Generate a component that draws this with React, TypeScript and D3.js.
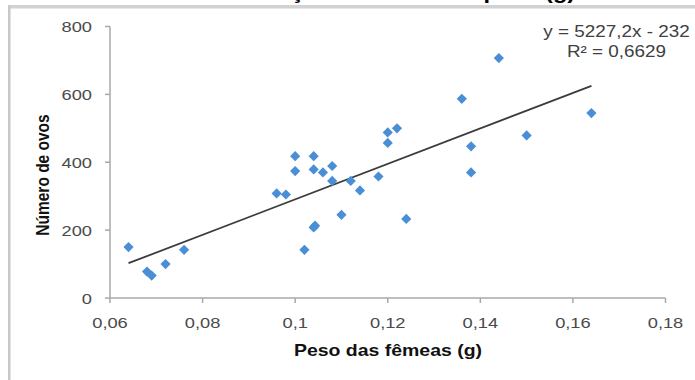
import { useRef, useEffect } from 'react';
import * as d3 from 'd3';

const WIDTH = 695;
const HEIGHT = 380;

// peso das fêmeas (g)
const pesos = [
  0.064, 0.068, 0.069, 0.072, 0.076, 0.096, 0.098, 0.1, 0.1, 0.102, 0.104,
  0.104, 0.104, 0.1043, 0.106, 0.108, 0.108, 0.11, 0.112, 0.114, 0.118, 0.12,
  0.12, 0.122, 0.124, 0.136, 0.138, 0.138, 0.144, 0.15, 0.164,
];
// número de ovos
const ovos = [
  150, 78, 66, 100, 142, 308, 305, 418, 374, 142, 418,
  379, 208, 213, 370, 389, 345, 245, 345, 317, 358, 488,
  457, 500, 233, 587, 447, 370, 707, 479, 545,
];

const xTicks = [0.06, 0.08, 0.1, 0.12, 0.14, 0.16, 0.18];
const xTickLabels = ['0,06', '0,08', '0,1', '0,12', '0,14', '0,16', '0,18'];
const yTicks = [0, 200, 400, 600, 800];
const yTickLabels = ['0', '200', '400', '600', '800'];

const trendSlope = 5227.2;
const trendIntercept = -232;
const equationLines = ['y = 5227,2x - 232', 'R² = 0,6629'];

const FONT = '"Liberation Sans", Arial, sans-serif';
const STRETCH = 1.18; // the picture is a little wider than tall

const App = () => {
  const svgRef = useRef<SVGSVGElement>(null);

  useEffect(() => {
    document.body.style.margin = '0';
    const svg = d3.select(svgRef.current);
    svg.selectAll('*').remove();

    const x = d3.scaleLinear().domain([0.06, 0.18]).range([110, 665.5]);
    const y = d3.scaleLinear().domain([0, 800]).range([298, 26.5]);

    const label = (
      px: number, py: number, txt: string,
      opts: { size: number; anchor?: string; weight?: string; fill?: string; rotate?: number }
    ) => {
      svg.append('text')
        .attr('transform', `translate(${px},${py}) scale(${STRETCH},1)${opts.rotate ? ` rotate(${opts.rotate})` : ''}`)
        .attr('font-family', FONT)
        .attr('font-size', opts.size)
        .attr('font-weight', opts.weight || 'normal')
        .attr('text-anchor', opts.anchor || 'middle')
        .attr('fill', opts.fill || '#000')
        .text(txt);
    };

    // caption above the frame, cut off by the top edge as in the source
    label(241, -1, 'Relação entre ovos e peso (g)', { size: 20, anchor: 'start', weight: 'bold' });

    // frame
    svg.append('rect').attr('x', 8).attr('y', 5).attr('width', WIDTH - 8).attr('height', 3.5).attr('fill', '#d2d2d2');
    svg.append('rect').attr('x', 8).attr('y', 5).attr('width', 2.5).attr('height', HEIGHT - 5).attr('fill', '#c8c8c8');

    const axisColor = '#a8a8a8';

    // y axis
    svg.append('line')
      .attr('x1', x(0.06)).attr('x2', x(0.06))
      .attr('y1', y(800)).attr('y2', y(0))
      .attr('stroke', axisColor).attr('stroke-width', 1.5);
    yTicks.forEach((t, i) => {
      svg.append('line')
        .attr('x1', x(0.06) - 5).attr('x2', x(0.06))
        .attr('y1', y(t)).attr('y2', y(t))
        .attr('stroke', axisColor).attr('stroke-width', 1.5);
      label(92, y(t) + 5.5, yTickLabels[i], { size: 15.5, anchor: 'end', fill: '#4a4a4a' });
    });

    // x axis
    svg.append('line')
      .attr('x1', x(0.06)).attr('x2', x(0.18))
      .attr('y1', y(0)).attr('y2', y(0))
      .attr('stroke', axisColor).attr('stroke-width', 1.5);
    xTicks.forEach((t, i) => {
      svg.append('line')
        .attr('x1', x(t)).attr('x2', x(t))
        .attr('y1', y(0)).attr('y2', y(0) + 5)
        .attr('stroke', axisColor).attr('stroke-width', 1.5);
      label(x(t), 327.5, xTickLabels[i], { size: 15.5, fill: '#4a4a4a' });
    });

    // axis titles
    label(388, 356, 'Peso das fêmeas (g)', { size: 16.5, weight: 'bold', fill: '#111' });
    label(49, 175, 'Número de ovos', { size: 15.5, weight: 'bold', fill: '#111', rotate: -90 });

    // trend line
    const [x0, x1] = d3.extent(pesos) as [number, number];
    const trend = d3.line<number>()
      .x(d => x(d))
      .y(d => y(trendSlope * d + trendIntercept));
    svg.append('path')
      .datum([x0, x1])
      .attr('fill', 'none')
      .attr('stroke', '#3c3c3c')
      .attr('stroke-width', 1.8)
      .attr('d', trend);

    // points
    const diamond = d3.symbol().type(d3.symbolSquare).size(52);
    svg.append('g')
      .selectAll('path')
      .data(pesos)
      .join('path')
      .attr('transform', (d, i) => `translate(${x(d)},${y(ovos[i])}) rotate(45)`)
      .attr('d', diamond)
      .attr('fill', '#4a8fd6');

    // equation
    equationLines.forEach((t, i) => {
      label(616.5, 37 + i * 20, t, { size: 16, fill: '#404040' });
    });
  }, []);

  return (
    <svg ref={svgRef} width={WIDTH} height={HEIGHT} style={{ display: 'block', background: '#fff' }}></svg>
  );
};

export default App;
